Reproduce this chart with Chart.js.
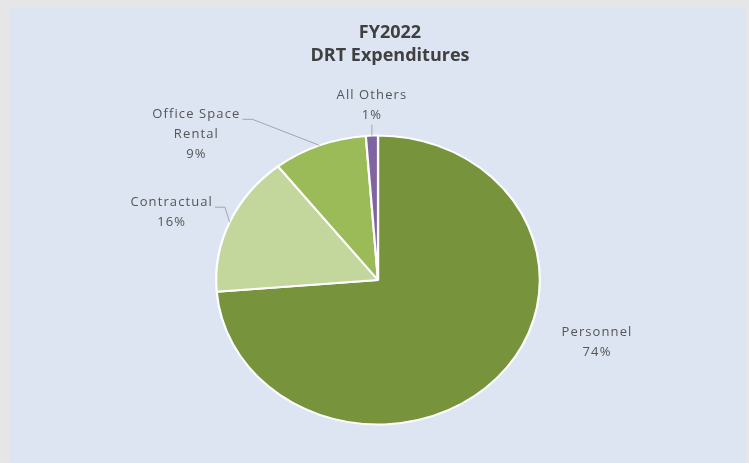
<!DOCTYPE html>
<html>
<head>
<meta charset="utf-8">
<script src="https://cdn.jsdelivr.net/npm/chart.js@4"></script>
<style>
  html, body { margin: 0; padding: 0; background: #e6e6e6; }
  #wrap { position: relative; width: 749px; height: 463px; overflow: hidden; }
  #panel { position: absolute; left: 9px; top: 7px; width: 736px; height: 456px; background: #dde4f2; }
  #box { position: absolute; left: 0; top: 0; width: 749px; height: 463px; }
</style>
</head>
<body>
<div id="wrap">
  <div id="panel"></div>
  <div id="box"><canvas id="c"></canvas></div>
</div>
<script>
// ---- data ----
const titleLines = ['FY2022', 'DRT Expenditures'];
const categories = ['Personnel', 'Contractual', 'Office Space\nRental', 'All Others'];
const values = [73.7, 15.7, 9.4, 1.2];
const pctLabels = ['74%', '16%', '9%', '1%'];
const sliceColors = ['#77933c', '#c3d69b', '#9bbb59', '#8064a2'];

// ---- display helpers (layout/styling) ----
const STRETCH_X = 1.12;   // the reference pie is drawn as an ellipse
const SHIFT_X = -12;      // pie centre sits left of the title centre
const labelStyle = [
  { dx: 100, dy: -36, leader: 'none' },
  { dx: -58, dy: -10, leader: 'side' },
  { dx: -123, dy: -11, leader: 'side' },
  { dx: 0, dy: -30, leader: 'below' }
];
const LINE_H = 20;

function mapX(x, cx) { return cx + SHIFT_X + STRETCH_X * (x - cx); }

const ellipsePlugin = {
  id: 'ellipse',
  beforeDatasetsDraw(chart) {
    const arc = chart.getDatasetMeta(0).data[0];
    const ctx = chart.ctx;
    ctx.save();
    ctx.translate(arc.x + SHIFT_X, 0);
    ctx.scale(STRETCH_X, 1);
    ctx.translate(-arc.x, 0);
  },
  afterDatasetsDraw(chart) {
    chart.ctx.restore();
  }
};

const labelPlugin = {
  id: 'sliceLabels',
  afterDraw(chart) {
    const ctx = chart.ctx;
    const meta = chart.getDatasetMeta(0);
    ctx.save();
    ctx.font = '13px "Open Sans", sans-serif';
    if ('letterSpacing' in ctx) ctx.letterSpacing = '1.1px';
    ctx.fillStyle = '#555555';
    ctx.textAlign = 'center';
    ctx.textBaseline = 'middle';
    meta.data.forEach((arc, i) => {
      const p = arc.getProps(['x', 'y', 'startAngle', 'endAngle', 'outerRadius'], true);
      const mid = (p.startAngle + p.endAngle) / 2;
      const ax = mapX(p.x + Math.cos(mid) * p.outerRadius, p.x);
      const ay = p.y + Math.sin(mid) * p.outerRadius;
      const st = labelStyle[i];
      const lines = categories[i].split('\n').concat([pctLabels[i]]);
      const cx = ax + st.dx;
      const cy = ay + st.dy;
      const y0 = cy - (lines.length - 1) * LINE_H / 2;
      lines.forEach((t, k) => ctx.fillText(t, cx, y0 + k * LINE_H));
      ctx.strokeStyle = '#a6a6a6';
      ctx.lineWidth = 1;
      if (st.leader === 'side') {
        const w = ctx.measureText(lines[0]).width;
        const sx = cx + w / 2 + 2;
        const sy = y0 + 5;
        ctx.beginPath();
        ctx.moveTo(sx, sy);
        ctx.lineTo(sx + 10, sy);
        ctx.lineTo(ax, ay);
        ctx.stroke();
      } else if (st.leader === 'below') {
        const by = y0 + (lines.length - 1) * LINE_H + 9;
        ctx.beginPath();
        ctx.moveTo(ax, by);
        ctx.lineTo(ax, ay);
        ctx.stroke();
      }
    });
    ctx.restore();
  }
};

new Chart(document.getElementById('c'), {
  type: 'pie',
  data: {
    labels: categories,
    datasets: [{
      data: values,
      backgroundColor: sliceColors,
      borderColor: '#ffffff',
      borderWidth: 2,
      hoverOffset: 0
    }]
  },
  options: {
    responsive: true,
    maintainAspectRatio: false,
    animation: false,
    layout: { padding: { top: 10, bottom: 37.5, left: 210, right: 179 } },
    plugins: {
      legend: { display: false },
      tooltip: { enabled: false },
      title: {
        display: true,
        text: titleLines,
        color: '#404040',
        font: { family: '"Open Sans", sans-serif', size: 18, weight: '700', lineHeight: 1.25 },
        padding: { top: 12, bottom: 67.5 }
      }
    }
  },
  plugins: [ellipsePlugin, labelPlugin]
});
</script>
</body>
</html>
